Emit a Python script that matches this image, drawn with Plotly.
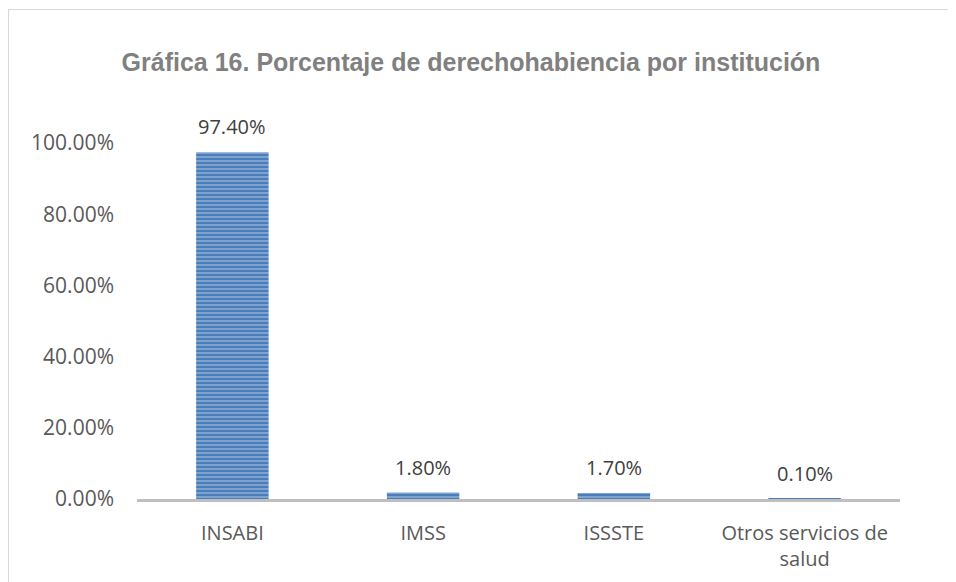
import plotly.graph_objects as go

categories = ["INSABI", "IMSS", "ISSSTE", "Otros servicios de<br>salud"]
values = [0.974, 0.018, 0.017, 0.001]
tick_vals = [0, 0.2, 0.4, 0.6, 0.8, 1.0]
tick_text = ["0.00%", "20.00%", "40.00%", "60.00%", "80.00%", "100.00%"]
title_text = "Gráfica 16. Porcentaje de derechohabiencia por institución"

FONT = "Open Sans"
OFF = 8  # the page body margin shifts the figure by 8px

fig = go.Figure()
fig.add_trace(go.Bar(
    x=categories,
    y=values,
    marker=dict(
        color="#4a7ebb",
        line=dict(width=0),
        pattern=dict(shape="-", fgcolor="#dfe8f3", bgcolor="#4a7ebb", size=4, solidity=0.35),
    ),
    width=0.38,
    hoverinfo="skip",
))

for c, v in zip(categories, values):
    fig.add_annotation(
        x=c, y=v, text=f"{v*100:.2f}%", showarrow=False,
        yanchor="bottom", yshift=10,
        font=dict(family=FONT, size=20, color="#404040"),
    )

W, H = 956, 582
L, R, T, B = 137 - OFF, W - (900 - OFF), 143 - OFF, H - (499 - OFF)
pw, ph = W - L - R, H - T - B

def px_to_paper_x(px):
    return (px - L) / pw

def px_to_paper_y(py):
    return (H - B - py) / ph

fig.add_shape(
    type="rect", xref="paper", yref="paper",
    x0=px_to_paper_x(0.5), x1=px_to_paper_x(W + 20),
    y0=px_to_paper_y(H + 20), y1=px_to_paper_y(1.5),
    line=dict(color="#d9d9d9", width=1.2), fillcolor="rgba(0,0,0,0)", layer="below",
)

fig.update_layout(
    width=W, height=H,
    margin=dict(l=L, r=R, t=T, b=B),
    paper_bgcolor="white", plot_bgcolor="white",
    showlegend=False,
    title=dict(
        text=title_text, x=(471 - OFF) / W, xanchor="center", y=1 - (62 - OFF) / H, yanchor="middle",
        font=dict(family="Liberation Sans", size=25, color="#808080", weight="bold"),
    ),
    bargap=0.62,
    xaxis=dict(
        showline=True, linecolor="#bfbfbf", linewidth=2.5,
        showgrid=False, zeroline=False, ticks="",
        tickfont=dict(family=FONT, size=20, color="#595959"),
        ticklabelstandoff=14,
        fixedrange=True,
    ),
    yaxis=dict(
        range=[0, 1.0], tickvals=tick_vals, ticktext=tick_text,
        showline=False, showgrid=False, zeroline=False, ticks="",
        tickfont=dict(family=FONT, size=21, color="#595959"),
        ticklabelstandoff=22,
        fixedrange=True,
    ),
)

fig.write_html("out.html")
